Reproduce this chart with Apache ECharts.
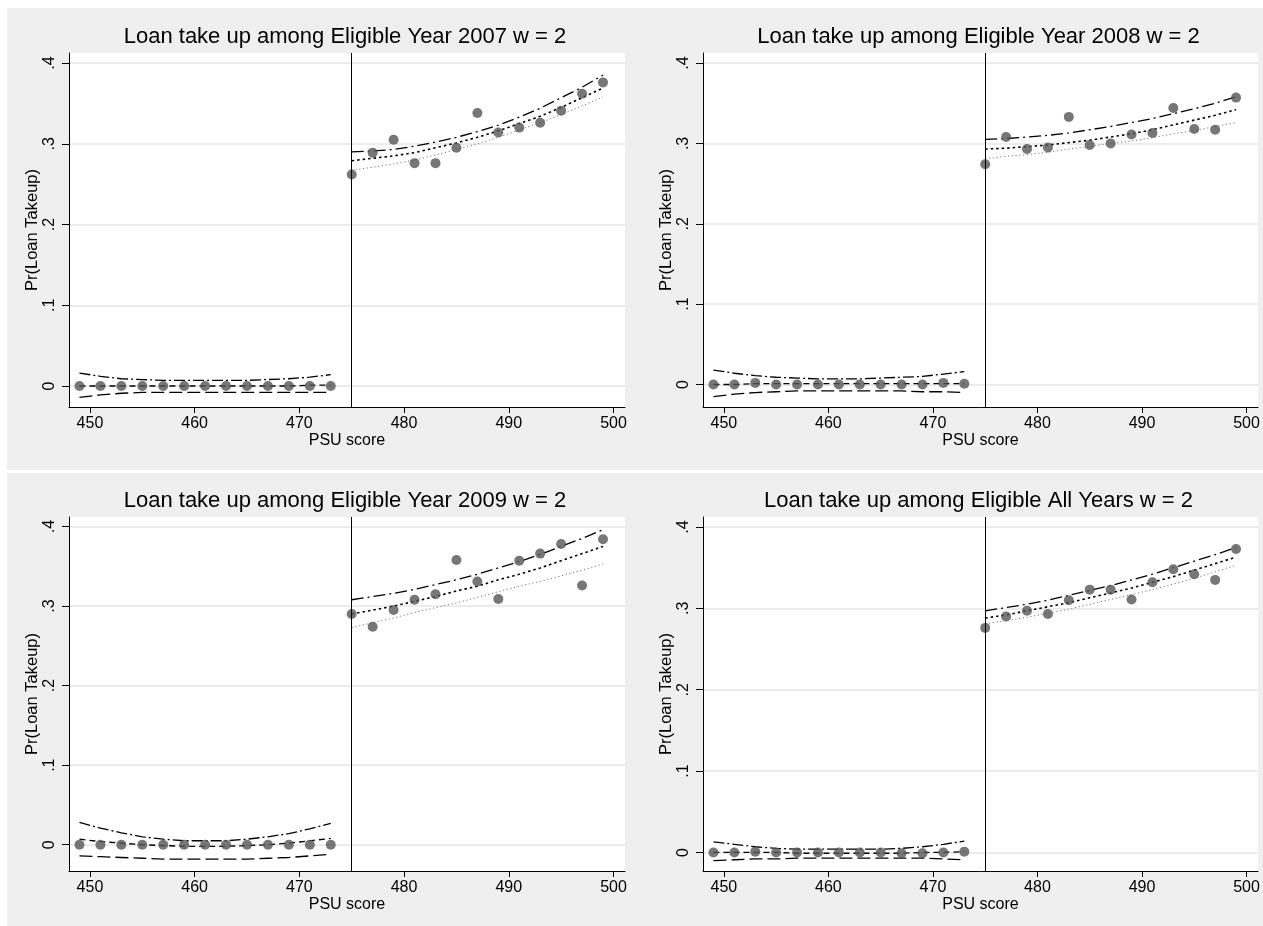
<!DOCTYPE html>
<html>
<head>
<meta charset="utf-8">
<script src="https://cdn.jsdelivr.net/npm/echarts@6/dist/echarts.min.js"></script>
<style>
  html, body { margin: 0; padding: 0; background: #fff; }
  #chart { width: 1263px; height: 926px; }
</style>
</head>
<body>
<div id="chart"></div>
<script>
// running variable, below / above the cutoff
var xLeft  = [449, 451, 453, 455, 457, 459, 461, 463, 465, 467, 469, 471, 473];
var xRight = [475, 477, 479, 481, 483, 485, 487, 489, 491, 493, 495, 497, 499];
var cutoff = 475;

var titles = [
  'Loan take up among Eligible Year 2007 w = 2',
  'Loan take up among Eligible Year 2008 w = 2',
  'Loan take up among Eligible Year 2009 w = 2',
  'Loan take up among Eligible All Years w = 2'
];
var xTicks = [450, 460, 470, 480, 490, 500];
var yTicks = [0, 0.1, 0.2, 0.3, 0.4];
var yTickLabels = ['0', '.1', '.2', '.3', '.4'];

// 2007
var ptsL07 = [0, 0, 0, 0, 0, 0, 0, 0, 0, 0, 0, 0, 0];
var ptsR07 = [.262, .289, .305, .276, .276, .295, .338, .314, .320, .326, .341, .362, .376];
var upL07  = [.016, .012, .009, .008, .007, .007, .007, .007, .007, .008, .009, .011, .014];
var fitL07 = [0, 0, 0, 0, 0, 0, 0, 0, 0, 0, 0, .001, .001];
var loL07  = [-.014, -.011, -.009, -.008, -.008, -.008, -.008, -.008, -.008, -.008, -.008, -.008, -.008];
var upR07  = [.290, .291, .293, .297, .302, .308, .315, .323, .333, .344, .357, .370, .385];
var fitR07 = [.279, .282, .285, .289, .295, .301, .308, .316, .325, .334, .345, .357, .369];
var loR07  = [.267, .271, .275, .280, .286, .293, .300, .308, .317, .326, .336, .347, .358];

// 2008
var ptsL08 = [0, 0, .002, 0, 0, 0, 0, 0, 0, 0, 0, .002, .001];
var ptsR08 = [.274, .308, .293, .295, .333, .298, .300, .311, .313, .344, .318, .317, .357];
var upL08  = [.018, .014, .011, .009, .008, .007, .007, .007, .008, .009, .010, .013, .016];
var fitL08 = [0, 0, .001, .001, .001, .001, .001, .001, .001, .001, .001, .001, .001];
var loL08  = [-.015, -.012, -.010, -.009, -.008, -.008, -.008, -.008, -.008, -.008, -.009, -.009, -.010];
var upR08  = [.305, .306, .308, .310, .313, .317, .321, .326, .331, .337, .343, .350, .358];
var fitR08 = [.293, .294, .296, .298, .301, .304, .308, .312, .317, .323, .329, .335, .342];
var loR08  = [.281, .284, .286, .289, .293, .296, .300, .303, .307, .312, .316, .321, .326];

// 2009
var ptsL09 = [0, 0, 0, 0, 0, 0, 0, 0, 0, 0, 0, 0, 0];
var ptsR09 = [.290, .274, .295, .308, .315, .358, .331, .309, .357, .366, .378, .326, .384];
var upL09  = [.028, .021, .015, .010, .007, .005, .005, .005, .007, .010, .014, .020, .027];
var fitL09 = [.007, .004, .002, 0, -.001, -.002, -.002, -.002, -.001, 0, .002, .005, .008];
var loL09  = [-.014, -.015, -.016, -.017, -.018, -.018, -.018, -.018, -.018, -.017, -.016, -.014, -.012];
var upR09  = [.308, .312, .316, .321, .327, .333, .340, .348, .356, .365, .375, .385, .396];
var fitR09 = [.290, .295, .300, .306, .312, .319, .325, .333, .340, .348, .357, .366, .375];
var loR09  = [.273, .279, .285, .292, .298, .304, .311, .318, .325, .331, .338, .345, .353];

// all years
var ptsLAll = [0, 0, .001, 0, 0, 0, 0, 0, 0, -.001, -.001, 0, .001];
var ptsRAll = [.276, .290, .297, .293, .310, .323, .323, .311, .332, .348, .342, .335, .373];
var upLAll  = [.013, .010, .007, .005, .004, .004, .004, .004, .004, .005, .007, .010, .014];
var fitLAll = [0, 0, 0, 0, -.001, -.001, -.001, -.001, -.001, -.001, 0, 0, .001];
var loLAll  = [-.010, -.009, -.008, -.008, -.007, -.007, -.007, -.007, -.007, -.007, -.007, -.008, -.009];
var upRAll  = [.297, .301, .305, .310, .316, .322, .328, .335, .342, .350, .358, .366, .375];
var fitRAll = [.288, .292, .297, .302, .307, .313, .319, .325, .332, .339, .347, .355, .363];
var loRAll  = [.281, .285, .289, .294, .299, .305, .311, .317, .323, .330, .337, .345, .353];

var FONT = '"Liberation Sans", Arial, Helvetica, sans-serif';

var panels = [
  { left: 69,  top: 53,  width: 556, yMin: -0.026, yMax: 0.4124,
    pL: ptsL07, pR: ptsR07, uL: upL07, fL: fitL07, lL: loL07, uR: upR07, fR: fitR07, lR: loR07 },
  { left: 703, top: 53,  width: 555, yMin: -0.028, yMax: 0.4125,
    pL: ptsL08, pR: ptsR08, uL: upL08, fL: fitL08, lL: loL08, uR: upR08, fR: fitR08, lR: loR08 },
  { left: 69,  top: 517, width: 556, yMin: -0.033, yMax: 0.412,
    pL: ptsL09, pR: ptsR09, uL: upL09, fL: fitL09, lL: loL09, uR: upR09, fR: fitR09, lR: loR09 },
  { left: 703, top: 517, width: 555, yMin: -0.0228, yMax: 0.4123,
    pL: ptsLAll, pR: ptsRAll, uL: upLAll, fL: fitLAll, lL: loLAll, uR: upRAll, fR: fitRAll, lR: loRAll }
];

function zip(xs, ys) {
  return xs.map(function (x, i) { return [x, ys[i]]; });
}

function lineSeries(i, xs, ys, color, width, dash) {
  return {
    type: 'line', xAxisIndex: i, yAxisIndex: i,
    data: zip(xs, ys), symbol: 'none', silent: true, z: 2,
    lineStyle: { color: color, width: width, type: dash }
  };
}

var grids = [], xAxes = [], yAxes = [], series = [], graphics = [];

// gray backgrounds of the two rows
graphics.push({ type: 'rect', z: -10, shape: { x: 7, y: 8, width: 1256, height: 462 }, style: { fill: '#efefef' } });
graphics.push({ type: 'rect', z: -10, shape: { x: 7, y: 473, width: 1256, height: 453 }, style: { fill: '#efefef' } });

panels.forEach(function (p, i) {
  grids.push({ left: p.left, top: p.top, width: p.width, height: 354,
    show: true, backgroundColor: '#fff', borderWidth: 0 });

  xAxes.push({
    gridIndex: i, type: 'value', min: 448, max: 501.1,
    name: 'PSU score', nameLocation: 'middle', nameGap: 26,
    nameTextStyle: { fontFamily: FONT, fontSize: 16, color: '#000' },
    axisLine: { onZero: false, lineStyle: { color: '#000', width: 1 } },
    axisTick: { length: 6, lineStyle: { color: '#000' }, customValues: xTicks },
    axisLabel: { customValues: xTicks, margin: 9, fontFamily: FONT, fontSize: 16, color: '#000' },
    splitLine: { show: false }
  });

  yAxes.push({
    gridIndex: i, type: 'value', min: p.yMin, max: p.yMax,
    name: 'Pr(Loan Takeup)', nameLocation: 'middle', nameGap: 28,
    nameTextStyle: { fontFamily: FONT, fontSize: 16.5, color: '#000' },
    axisLine: { show: true, onZero: false, lineStyle: { color: '#000', width: 1 } },
    axisTick: { show: true, length: 7, lineStyle: { color: '#000' }, customValues: yTicks },
    axisLabel: {
      customValues: yTicks, rotate: 90, margin: 11,
      fontFamily: FONT, fontSize: 16, color: '#000',
      formatter: function (v) {
        var k = yTicks.indexOf(v);
        return k >= 0 ? yTickLabels[k] : '';
      }
    },
    splitLine: { show: false }
  });

  // below cutoff: upper, fit, lower
  series.push(lineSeries(i, xLeft, p.uL, '#000', 1.3, [11, 3, 2, 3]));
  series.push(lineSeries(i, xLeft, p.fL, '#000', 1.3, [6, 4]));
  series.push(lineSeries(i, xLeft, p.lL, '#000', 1.3, [13, 5]));
  // above cutoff: upper, fit, lower
  series.push(lineSeries(i, xRight, p.uR, '#000', 1.3, [12, 4, 2, 4]));
  series.push(lineSeries(i, xRight, p.fR, '#000', 1.6, [2.5, 3]));
  series.push(lineSeries(i, xRight, p.lR, '#777', 1, [1.2, 2.6]));

  // horizontal grid lines
  series.push({
    type: 'line', xAxisIndex: i, yAxisIndex: i, data: [], z: 0, silent: true,
    markLine: {
      silent: true, symbol: 'none', z: 0, label: { show: false },
      lineStyle: { color: '#e6e6e6', width: 1.5, type: 'solid' },
      data: yTicks.map(function (v) { return { yAxis: v }; })
    }
  });

  // binned means + cutoff line
  series.push({
    type: 'scatter', xAxisIndex: i, yAxisIndex: i, silent: true, z: 4,
    data: zip(xLeft.concat(xRight), p.pL.concat(p.pR)),
    symbol: 'circle', symbolSize: 10,
    itemStyle: { color: '#555555' },
    markLine: {
      silent: true, symbol: 'none', label: { show: false },
      lineStyle: { color: '#000', width: 1, type: 'solid' },
      data: [{ xAxis: cutoff }]
    }
  });

  graphics.push({
    type: 'text', z: 10,
    x: p.left + p.width / 2 - 2, y: p.top - 16,
    style: { text: titles[i], align: 'center', verticalAlign: 'middle',
      font: '22px ' + FONT, fill: '#000' }
  });
});

var chart = echarts.init(document.getElementById('chart'), null, { renderer: 'canvas' });
chart.setOption({
  animation: false,
  backgroundColor: '#fff',
  graphic: graphics,
  grid: grids,
  xAxis: xAxes,
  yAxis: yAxes,
  series: series
});
</script>
</body>
</html>
